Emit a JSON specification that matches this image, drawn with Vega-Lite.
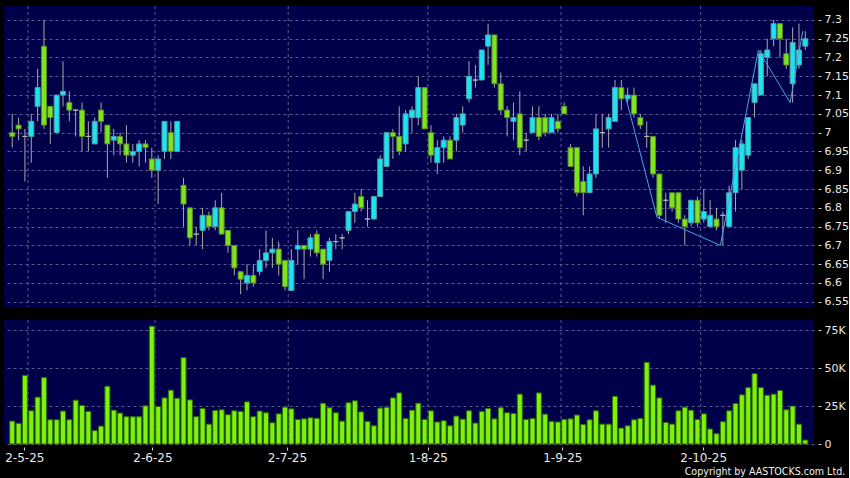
{
  "$schema": "https://vega.github.io/schema/vega-lite/v6.json",
  "background": "#000000",
  "padding": {"left": 4, "top": 5, "right": 0, "bottom": 0},
  "config": {
    "view": {"fill": "#00004a", "stroke": null},
    "axis": {"labelFont": "DejaVu Sans", "labelColor": "#e8e8e8", "gridColor": "#5a5a92", "gridDash": [3, 3], "gridWidth": 1, "tickColor": "#d0d0d0", "domain": false, "title": null, "labelOverlap": false, "labelFlush": false},
    "concat": {"spacing": 11},
    "title": {"font": "DejaVu Sans Condensed", "color": "#f0f0f0", "fontWeight": "normal"}
  },
  "datasets": {
    "gridx": [{"g": 2.5}, {"g": 22.5}, {"g": 43.5}, {"g": 65.5}, {"g": 86.5}, {"g": 108.5}],
    "ohlc": [
      {"i":0,"o":7.00,"h":7.05,"l":6.96,"c":6.99,"v":15100,"dir":"down"},
      {"i":1,"o":7.02,"h":7.04,"l":6.98,"c":7.01,"v":13600,"dir":"down"},
      {"i":2,"o":6.99,"h":7.01,"l":6.87,"c":6.99,"v":45300,"dir":"flat"},
      {"i":3,"o":6.99,"h":7.05,"l":6.92,"c":7.03,"v":21900,"dir":"up"},
      {"i":4,"o":7.07,"h":7.17,"l":7.03,"c":7.12,"v":30900,"dir":"up"},
      {"i":5,"o":7.23,"h":7.30,"l":7.01,"c":7.02,"v":43800,"dir":"down"},
      {"i":6,"o":7.07,"h":7.07,"l":6.97,"c":7.04,"v":16000,"dir":"down"},
      {"i":7,"o":7.00,"h":7.10,"l":7.00,"c":7.10,"v":16000,"dir":"up"},
      {"i":8,"o":7.10,"h":7.19,"l":7.07,"c":7.11,"v":21700,"dir":"up"},
      {"i":9,"o":7.08,"h":7.11,"l":7.03,"c":7.06,"v":16000,"dir":"down"},
      {"i":10,"o":7.06,"h":7.06,"l":6.99,"c":7.06,"v":28900,"dir":"flat"},
      {"i":11,"o":7.06,"h":7.08,"l":6.95,"c":6.99,"v":25400,"dir":"down"},
      {"i":12,"o":6.99,"h":7.03,"l":6.95,"c":6.99,"v":21500,"dir":"flat"},
      {"i":13,"o":6.97,"h":7.04,"l":6.97,"c":7.03,"v":8800,"dir":"up"},
      {"i":14,"o":7.06,"h":7.08,"l":7.00,"c":7.03,"v":11800,"dir":"down"},
      {"i":15,"o":7.02,"h":7.02,"l":6.88,"c":6.97,"v":38100,"dir":"down"},
      {"i":16,"o":6.98,"h":7.01,"l":6.94,"c":6.99,"v":22300,"dir":"up"},
      {"i":17,"o":6.99,"h":7.00,"l":6.94,"c":6.97,"v":20400,"dir":"down"},
      {"i":18,"o":6.97,"h":7.02,"l":6.92,"c":6.94,"v":18000,"dir":"down"},
      {"i":19,"o":6.94,"h":6.97,"l":6.92,"c":6.95,"v":18000,"dir":"up"},
      {"i":20,"o":6.95,"h":6.98,"l":6.91,"c":6.97,"v":18000,"dir":"up"},
      {"i":21,"o":6.97,"h":6.98,"l":6.92,"c":6.96,"v":25200,"dir":"down"},
      {"i":22,"o":6.93,"h":6.96,"l":6.88,"c":6.90,"v":77700,"dir":"down"},
      {"i":23,"o":6.90,"h":6.94,"l":6.81,"c":6.93,"v":24700,"dir":"up"},
      {"i":24,"o":6.95,"h":7.03,"l":6.93,"c":7.03,"v":30400,"dir":"up"},
      {"i":25,"o":7.00,"h":7.03,"l":6.93,"c":6.95,"v":35500,"dir":"down"},
      {"i":26,"o":6.95,"h":7.03,"l":6.95,"c":7.03,"v":30200,"dir":"up"},
      {"i":27,"o":6.86,"h":6.88,"l":6.75,"c":6.81,"v":57000,"dir":"down"},
      {"i":28,"o":6.80,"h":6.80,"l":6.70,"c":6.72,"v":29100,"dir":"down"},
      {"i":29,"o":6.73,"h":6.75,"l":6.70,"c":6.73,"v":18000,"dir":"flat"},
      {"i":30,"o":6.74,"h":6.80,"l":6.69,"c":6.78,"v":23400,"dir":"up"},
      {"i":31,"o":6.78,"h":6.79,"l":6.74,"c":6.75,"v":13100,"dir":"down"},
      {"i":32,"o":6.75,"h":6.82,"l":6.74,"c":6.80,"v":22100,"dir":"up"},
      {"i":33,"o":6.80,"h":6.84,"l":6.73,"c":6.73,"v":22600,"dir":"down"},
      {"i":34,"o":6.74,"h":6.74,"l":6.68,"c":6.70,"v":19300,"dir":"down"},
      {"i":35,"o":6.70,"h":6.70,"l":6.62,"c":6.64,"v":21900,"dir":"down"},
      {"i":36,"o":6.63,"h":6.63,"l":6.57,"c":6.61,"v":21500,"dir":"down"},
      {"i":37,"o":6.60,"h":6.65,"l":6.58,"c":6.62,"v":27800,"dir":"up"},
      {"i":38,"o":6.62,"h":6.65,"l":6.59,"c":6.60,"v":18000,"dir":"down"},
      {"i":39,"o":6.63,"h":6.69,"l":6.62,"c":6.66,"v":21700,"dir":"up"},
      {"i":40,"o":6.66,"h":6.74,"l":6.64,"c":6.68,"v":20600,"dir":"up"},
      {"i":41,"o":6.68,"h":6.72,"l":6.64,"c":6.69,"v":14000,"dir":"up"},
      {"i":42,"o":6.69,"h":6.71,"l":6.62,"c":6.65,"v":19900,"dir":"down"},
      {"i":43,"o":6.66,"h":6.66,"l":6.58,"c":6.59,"v":24300,"dir":"down"},
      {"i":44,"o":6.58,"h":6.69,"l":6.58,"c":6.66,"v":23200,"dir":"up"},
      {"i":45,"o":6.69,"h":6.74,"l":6.65,"c":6.70,"v":16200,"dir":"up"},
      {"i":46,"o":6.70,"h":6.70,"l":6.61,"c":6.69,"v":16600,"dir":"down"},
      {"i":47,"o":6.69,"h":6.73,"l":6.67,"c":6.72,"v":17300,"dir":"up"},
      {"i":48,"o":6.73,"h":6.74,"l":6.67,"c":6.68,"v":16900,"dir":"down"},
      {"i":49,"o":6.69,"h":6.69,"l":6.61,"c":6.65,"v":26900,"dir":"down"},
      {"i":50,"o":6.66,"h":6.72,"l":6.63,"c":6.71,"v":23900,"dir":"up"},
      {"i":51,"o":6.71,"h":6.73,"l":6.69,"c":6.71,"v":20600,"dir":"flat"},
      {"i":52,"o":6.72,"h":6.73,"l":6.69,"c":6.72,"v":15100,"dir":"flat"},
      {"i":53,"o":6.74,"h":6.79,"l":6.73,"c":6.79,"v":27200,"dir":"up"},
      {"i":54,"o":6.79,"h":6.84,"l":6.76,"c":6.81,"v":28500,"dir":"up"},
      {"i":55,"o":6.83,"h":6.85,"l":6.79,"c":6.80,"v":21200,"dir":"down"},
      {"i":56,"o":6.77,"h":6.82,"l":6.75,"c":6.77,"v":14900,"dir":"flat"},
      {"i":57,"o":6.77,"h":6.83,"l":6.77,"c":6.83,"v":12000,"dir":"up"},
      {"i":58,"o":6.83,"h":6.94,"l":6.83,"c":6.93,"v":23700,"dir":"up"},
      {"i":59,"o":6.91,"h":7.00,"l":6.91,"c":7.00,"v":24100,"dir":"up"},
      {"i":60,"o":7.00,"h":7.01,"l":6.93,"c":6.99,"v":30400,"dir":"down"},
      {"i":61,"o":6.99,"h":7.07,"l":6.94,"c":6.95,"v":33700,"dir":"down"},
      {"i":62,"o":6.97,"h":7.06,"l":6.95,"c":7.05,"v":16900,"dir":"up"},
      {"i":63,"o":7.04,"h":7.07,"l":7.00,"c":7.06,"v":22300,"dir":"up"},
      {"i":64,"o":7.04,"h":7.15,"l":7.02,"c":7.12,"v":26900,"dir":"up"},
      {"i":65,"o":7.12,"h":7.12,"l":7.01,"c":7.01,"v":16200,"dir":"down"},
      {"i":66,"o":7.00,"h":7.02,"l":6.92,"c":6.94,"v":21900,"dir":"down"},
      {"i":67,"o":6.92,"h":6.98,"l":6.89,"c":6.96,"v":14500,"dir":"up"},
      {"i":68,"o":6.96,"h":6.99,"l":6.92,"c":6.98,"v":15300,"dir":"up"},
      {"i":69,"o":6.98,"h":6.99,"l":6.93,"c":6.93,"v":12000,"dir":"down"},
      {"i":70,"o":6.98,"h":7.05,"l":6.95,"c":7.04,"v":18400,"dir":"up"},
      {"i":71,"o":7.02,"h":7.07,"l":7.00,"c":7.05,"v":16400,"dir":"up"},
      {"i":72,"o":7.09,"h":7.19,"l":7.08,"c":7.15,"v":21900,"dir":"up"},
      {"i":73,"o":7.14,"h":7.18,"l":7.12,"c":7.14,"v":13800,"dir":"flat"},
      {"i":74,"o":7.14,"h":7.22,"l":7.14,"c":7.22,"v":21500,"dir":"up"},
      {"i":75,"o":7.23,"h":7.29,"l":7.18,"c":7.26,"v":23400,"dir":"up"},
      {"i":76,"o":7.26,"h":7.26,"l":7.12,"c":7.13,"v":16600,"dir":"down"},
      {"i":77,"o":7.13,"h":7.16,"l":7.05,"c":7.06,"v":23900,"dir":"down"},
      {"i":78,"o":7.06,"h":7.07,"l":6.99,"c":7.04,"v":20600,"dir":"down"},
      {"i":79,"o":7.03,"h":7.08,"l":6.98,"c":7.04,"v":20100,"dir":"up"},
      {"i":80,"o":7.05,"h":7.11,"l":6.94,"c":6.96,"v":32900,"dir":"down"},
      {"i":81,"o":6.98,"h":7.00,"l":6.95,"c":6.98,"v":16200,"dir":"flat"},
      {"i":82,"o":7.00,"h":7.07,"l":7.00,"c":7.04,"v":16900,"dir":"up"},
      {"i":83,"o":7.04,"h":7.07,"l":6.98,"c":6.99,"v":33700,"dir":"down"},
      {"i":84,"o":7.04,"h":7.05,"l":6.99,"c":7.00,"v":19700,"dir":"down"},
      {"i":85,"o":7.00,"h":7.05,"l":7.00,"c":7.04,"v":14900,"dir":"up"},
      {"i":86,"o":7.03,"h":7.05,"l":7.00,"c":7.01,"v":14500,"dir":"down"},
      {"i":87,"o":7.07,"h":7.08,"l":7.05,"c":7.05,"v":16200,"dir":"down"},
      {"i":88,"o":6.96,"h":6.97,"l":6.91,"c":6.91,"v":16600,"dir":"down"},
      {"i":89,"o":6.96,"h":6.96,"l":6.83,"c":6.84,"v":19100,"dir":"down"},
      {"i":90,"o":6.87,"h":6.91,"l":6.78,"c":6.84,"v":12900,"dir":"down"},
      {"i":91,"o":6.84,"h":6.91,"l":6.84,"c":6.89,"v":16000,"dir":"up"},
      {"i":92,"o":6.89,"h":7.05,"l":6.88,"c":7.01,"v":21900,"dir":"up"},
      {"i":93,"o":7.00,"h":7.05,"l":6.96,"c":7.00,"v":13100,"dir":"flat"},
      {"i":94,"o":7.01,"h":7.05,"l":6.96,"c":7.04,"v":13100,"dir":"up"},
      {"i":95,"o":7.03,"h":7.14,"l":7.03,"c":7.12,"v":31500,"dir":"up"},
      {"i":96,"o":7.12,"h":7.14,"l":7.06,"c":7.09,"v":10500,"dir":"down"},
      {"i":97,"o":7.09,"h":7.12,"l":7.08,"c":7.10,"v":12000,"dir":"up"},
      {"i":98,"o":7.10,"h":7.12,"l":7.04,"c":7.05,"v":16000,"dir":"down"},
      {"i":99,"o":7.04,"h":7.05,"l":7.01,"c":7.02,"v":16900,"dir":"down"},
      {"i":100,"o":6.99,"h":7.03,"l":6.96,"c":6.99,"v":53900,"dir":"flat"},
      {"i":101,"o":6.99,"h":6.99,"l":6.88,"c":6.89,"v":38800,"dir":"down"},
      {"i":102,"o":6.89,"h":6.89,"l":6.77,"c":6.78,"v":30400,"dir":"down"},
      {"i":103,"o":6.82,"h":6.84,"l":6.76,"c":6.82,"v":14200,"dir":"flat"},
      {"i":104,"o":6.84,"h":6.84,"l":6.79,"c":6.80,"v":13100,"dir":"down"},
      {"i":105,"o":6.84,"h":6.84,"l":6.76,"c":6.77,"v":21900,"dir":"down"},
      {"i":106,"o":6.77,"h":6.78,"l":6.70,"c":6.75,"v":24300,"dir":"down"},
      {"i":107,"o":6.76,"h":6.82,"l":6.75,"c":6.82,"v":22300,"dir":"up"},
      {"i":108,"o":6.82,"h":6.83,"l":6.75,"c":6.76,"v":16200,"dir":"down"},
      {"i":109,"o":6.77,"h":6.85,"l":6.76,"c":6.79,"v":19900,"dir":"up"},
      {"i":110,"o":6.75,"h":6.82,"l":6.75,"c":6.78,"v":9900,"dir":"up"},
      {"i":111,"o":6.77,"h":6.80,"l":6.74,"c":6.75,"v":6800,"dir":"down"},
      {"i":112,"o":6.78,"h":6.79,"l":6.70,"c":6.78,"v":14700,"dir":"flat"},
      {"i":113,"o":6.75,"h":6.86,"l":6.75,"c":6.84,"v":21900,"dir":"up"},
      {"i":114,"o":6.84,"h":6.98,"l":6.79,"c":6.96,"v":26700,"dir":"up"},
      {"i":115,"o":6.90,"h":6.98,"l":6.85,"c":6.97,"v":32400,"dir":"up"},
      {"i":116,"o":6.94,"h":7.04,"l":6.93,"c":7.04,"v":37200,"dir":"up"},
      {"i":117,"o":7.08,"h":7.13,"l":7.04,"c":7.13,"v":46400,"dir":"up"},
      {"i":118,"o":7.10,"h":7.22,"l":7.10,"c":7.21,"v":37200,"dir":"up"},
      {"i":119,"o":7.20,"h":7.25,"l":7.15,"c":7.22,"v":32200,"dir":"up"},
      {"i":120,"o":7.25,"h":7.30,"l":7.23,"c":7.29,"v":32900,"dir":"up"},
      {"i":121,"o":7.29,"h":7.29,"l":7.20,"c":7.25,"v":35300,"dir":"down"},
      {"i":122,"o":7.21,"h":7.25,"l":7.17,"c":7.18,"v":22600,"dir":"down"},
      {"i":123,"o":7.13,"h":7.28,"l":7.08,"c":7.24,"v":25000,"dir":"up"},
      {"i":124,"o":7.18,"h":7.29,"l":7.17,"c":7.22,"v":13100,"dir":"up"},
      {"i":125,"o":7.23,"h":7.27,"l":7.22,"c":7.25,"v":2600,"dir":"up"}
    ],
    "zigzag": [
      {"i":97,"p":7.10},
      {"i":102,"p":6.775},
      {"i":112,"p":6.70},
      {"i":118,"p":7.22},
      {"i":123,"p":7.08},
      {"i":125,"p":7.27}
    ]
  },
  "vconcat": [
    {
      "width": 810,
      "height": 301,
      "layer": [
        {
          "data": {"name": "gridx"},
          "mark": {"type": "rule", "color": "#5a5a92", "strokeWidth": 1, "strokeDash": [3, 3]},
          "encoding": {
            "x": {"field": "g", "type": "quantitative",
                  "scale": {"domain": [-0.51, 125.58], "nice": false, "zero": false},
                  "axis": null}
          }
        },
        {
          "data": {"name": "ohlc"},
          "mark": {"type": "rule", "color": "#a8a8a8", "strokeWidth": 1},
          "encoding": {
            "x": {"field": "i", "type": "quantitative", "axis": null},
            "y": {"field": "l", "type": "quantitative",
                  "scale": {"domain": [6.536, 7.337], "nice": false, "zero": false},
                  "axis": {"orient": "right", "values": [6.55, 6.6, 6.65, 6.7, 6.75, 6.8, 6.85, 6.9, 6.95, 7, 7.05, 7.1, 7.15, 7.2, 7.25, 7.3], "tickCount": 30, "format": ".2~f", "offset": 4, "tickSize": 3, "labelPadding": 3, "labelFontSize": 11, "grid": true, "labelOverlap": false}},
            "y2": {"field": "h"}
          }
        },
        {
          "data": {"name": "ohlc"},
          "mark": {"type": "bar", "width": 5, "strokeWidth": 1},
          "encoding": {
            "x": {"field": "i", "type": "quantitative", "axis": null},
            "y": {"field": "o", "type": "quantitative"},
            "y2": {"field": "c"},
            "fill": {"field": "dir", "type": "nominal", "scale": {"domain": ["up", "down", "flat"], "range": ["#1ae4ef", "#7ee41d", "#b4b4b4"]}, "legend": null},
            "stroke": {"field": "dir", "type": "nominal", "scale": {"domain": ["up", "down", "flat"], "range": ["#4f9caa", "#5b8d2b", "#b4b4b4"]}, "legend": null}
          }
        },
        {
          "data": {"name": "zigzag"},
          "mark": {"type": "line", "color": "#4aa6e0", "strokeWidth": 1, "xOffset": -2.5},
          "encoding": {
            "x": {"field": "i", "type": "quantitative", "axis": null},
            "y": {"field": "p", "type": "quantitative"}
          }
        }
      ]
    },
    {
      "width": 810,
      "height": 124,
      "title": {"text": "Copyright by AASTOCKS.com Ltd.", "orient": "bottom", "anchor": "end", "frame": "bounds", "fontSize": 10.6, "offset": 4, "dx": 0},
      "layer": [
        {
          "data": {"name": "gridx"},
          "mark": {"type": "rule", "color": "#5a5a92", "strokeWidth": 1, "strokeDash": [3, 3]},
          "encoding": {
            "x": {"field": "g", "type": "quantitative",
                  "scale": {"domain": [-0.51, 125.58], "nice": false, "zero": false},
                  "axis": {"orient": "bottom", "values": [1.9, 22.1, 43.3, 65.5, 86.7, 108.9], "labelExpr": "datum.value < 10 ? '2-5-25' : datum.value < 30 ? '2-6-25' : datum.value < 50 ? '2-7-25' : datum.value < 70 ? '1-8-25' : datum.value < 90 ? '1-9-25' : '2-10-25'", "grid": false, "offset": 3, "tickSize": 3, "labelPadding": 2, "labelFontSize": 12, "labelFlush": false, "labelOverlap": false}}
          }
        },
        {
          "data": {"name": "ohlc"},
          "mark": {"type": "bar", "width": 5, "fill": "#7df20a", "stroke": "#2f6d08", "strokeWidth": 1},
          "encoding": {
            "x": {"field": "i", "type": "quantitative"},
            "y": {"field": "v", "type": "quantitative",
                  "scale": {"domain": [0, 81800], "nice": false, "zero": true},
                  "axis": {"orient": "right", "values": [0, 25000, 50000, 75000], "tickCount": 10, "labelExpr": "datum.value == 0 ? '0' : (datum.value / 1000) + 'K'", "offset": 4, "tickSize": 3, "labelPadding": 3, "labelFontSize": 11, "grid": true, "labelOverlap": false}}
          }
        }
      ]
    }
  ]
}
